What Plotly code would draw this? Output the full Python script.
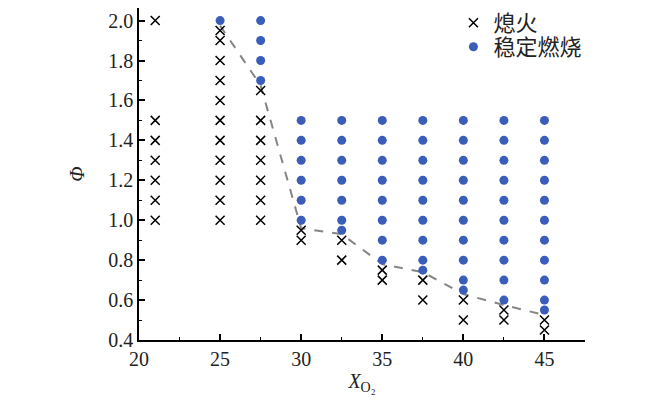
import plotly.graph_objects as go

# extinction points (x marks)
ext_x = [21]*7 + [25]*11 + [27.5]*7 + [30, 30, 32.5, 32.5, 35, 35, 37.5, 37.5, 40, 40, 42.5, 42.5, 45, 45]
ext_y = [2.0, 1.5, 1.4, 1.3, 1.2, 1.1, 1.0,
         1.95, 1.9, 1.8, 1.7, 1.6, 1.5, 1.4, 1.3, 1.2, 1.1, 1.0,
         1.65, 1.5, 1.4, 1.3, 1.2, 1.1, 1.0,
         0.95, 0.9, 0.9, 0.8, 0.75, 0.7, 0.7, 0.6, 0.6, 0.5, 0.55, 0.5, 0.5, 0.45]

# stable combustion points
stable_cols = {
    25: [2.0],
    27.5: [2.0, 1.9, 1.8, 1.7],
    30: [1.5, 1.4, 1.3, 1.2, 1.1, 1.0],
    32.5: [1.5, 1.4, 1.3, 1.2, 1.1, 1.0, 0.95],
    35: [1.5, 1.4, 1.3, 1.2, 1.1, 1.0, 0.9, 0.8],
    37.5: [1.5, 1.4, 1.3, 1.2, 1.1, 1.0, 0.9, 0.8, 0.75],
    40: [1.5, 1.4, 1.3, 1.2, 1.1, 1.0, 0.9, 0.8, 0.7, 0.65],
    42.5: [1.5, 1.4, 1.3, 1.2, 1.1, 1.0, 0.9, 0.8, 0.7, 0.6],
    45: [1.5, 1.4, 1.3, 1.2, 1.1, 1.0, 0.9, 0.8, 0.7, 0.6, 0.55],
}
st_x = [k for k, v in stable_cols.items() for _ in v]
st_y = [p for v in stable_cols.values() for p in v]

# boundary (dashed)
bd_x = [25, 27.5, 30, 32.5, 35, 37.5, 40, 42.5, 45]
bd_y = [1.975, 1.675, 0.96, 0.93, 0.78, 0.74, 0.63, 0.575, 0.525]

fig = go.Figure()

fig.add_trace(go.Scatter(x=bd_x, y=bd_y, mode='lines', showlegend=False,
                         line=dict(color='#858585', width=2, dash='dash')))

fig.add_trace(go.Scatter(x=ext_x, y=ext_y, mode='markers', name='熄火',
                         marker=dict(symbol='x-thin', size=9, color='black',
                                     line=dict(color='black', width=1.5))))

fig.add_trace(go.Scatter(x=st_x, y=st_y, mode='markers', name='稳定燃烧', legend='legend2',
                         marker=dict(symbol='circle', size=9, color='#3A5DB9')))

axis_common = dict(showline=True, linecolor='black', linewidth=1.5, showgrid=False,
                   zeroline=False, ticks='inside', ticklen=6, tickwidth=1.5, tickcolor='black',
                   tickfont=dict(family='Liberation Serif', size=20, color='#222'),
                   minor=dict(ticks='inside', ticklen=3, tickwidth=1.2, tickcolor='black'))

fig.update_xaxes(range=[20, 47.5], dtick=5, tick0=20, **axis_common)
fig.update_xaxes(minor_dtick=2.5,
                 title=dict(text='<i>X</i><sub>O₂</sub>', standoff=3,
                            font=dict(family='Liberation Serif', size=20, color='#222')))
fig.update_yaxes(range=[0.4, 2.063], dtick=0.2, tick0=0.4, tickformat='.1f', **axis_common)
fig.update_yaxes(minor_dtick=0.1,
                 title=dict(text='<i>Φ</i>', standoff=18,
                            font=dict(family='Liberation Serif', size=20, color='#222')))

leg_font = dict(family='Noto Sans CJK SC', size=22, color='#222')
fig.update_layout(
    width=650, height=407,
    margin=dict(l=131, r=73, t=0, b=75, autoexpand=False),
    paper_bgcolor='white', plot_bgcolor='white',
    legend=dict(x=0.705, y=1.018, xanchor='left', yanchor='top',
                font=leg_font, bgcolor='rgba(0,0,0,0)'),
    legend2=dict(x=0.705, y=0.946, xanchor='left', yanchor='top',
                 font=leg_font, bgcolor='rgba(0,0,0,0)'),
)

fig.write_html("out.html")
